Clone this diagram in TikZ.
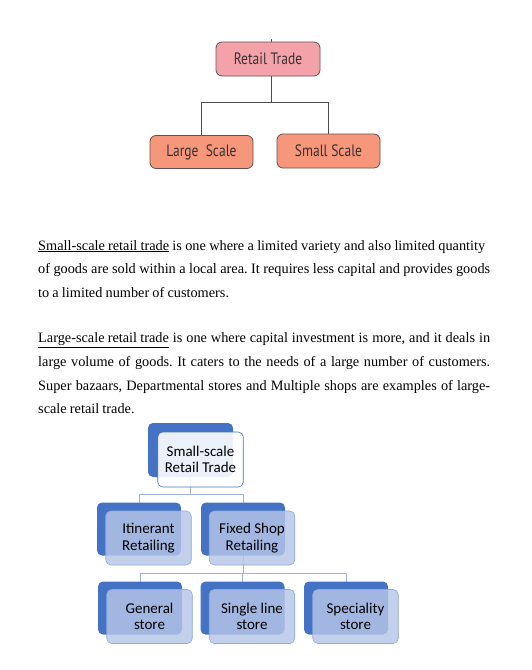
\documentclass[tikz,border=0pt]{standalone}
\usepackage{fontspec}
\setmainfont{Liberation Serif}
\newfontfamily\topfont[FakeStretch=0.82]{PT Sans}
\newfontfamily\calfont{Carlito}
\newcommand\parafont{\fontsize{14.3}{16}\selectfont\frenchspacing\spaceskip=0.22em plus 1em minus 0.05em\relax}
\usetikzlibrary{backgrounds}
\definecolor{pinkfill}{RGB}{244,162,170}
\definecolor{salmon}{RGB}{246,150,122}
\definecolor{boxedge}{RGB}{100,80,80}
\definecolor{toptext}{RGB}{55,50,50}
\definecolor{darkblue}{RGB}{68,114,196}
\definecolor{lightblue}{RGB}{182,198,232}
\definecolor{edgeblue}{RGB}{143,170,220}
\definecolor{linkblue}{RGB}{160,178,215}
\tikzset{
 topbox/.style={draw=boxedge, line width=0.8pt, rounded corners=6pt, minimum width=103pt, minimum height=33pt, inner sep=0, text=toptext, font=\topfont\fontsize{16.5}{16.5}\selectfont},
 back/.style={fill=darkblue, rounded corners=5pt, minimum width=84pt, minimum height=53pt, inner sep=0},
 front/.style={rounded corners=5pt, minimum width=85.5pt, minimum height=54pt, align=center, font=\calfont\fontsize{15}{16.5}\selectfont, inner sep=0, text opacity=1},
 lvlone/.style={front, fill=white, fill opacity=0.9, draw=darkblue, line width=0.6pt},
 lvltwo/.style={front, fill=lightblue, fill opacity=0.82, draw=edgeblue, line width=0.6pt},
 link/.style={draw=linkblue, line width=0.8pt},
 treelink/.style={draw=black!70, line width=0.7pt},
 para/.style={anchor=base west, inner sep=0, font=\parafont}
}
\begin{document}
\begin{tikzpicture}[x=1pt,y=-1pt]
\useasboundingbox (0,0) rectangle (531,670);
% top tree
\node[topbox, fill=pinkfill, minimum width=104pt, minimum height=34pt] (rt) at (268,59) {Retail Trade};
\node[topbox, fill=salmon] (ls) at (201.5,152) {Large\ \ Scale};
\node[topbox, fill=salmon, minimum height=34pt] (ss) at (328.5,151) {Small Scale};
\coordinate (rttop) at (271,39);
\coordinate (rtjoin) at (271,102);
\draw[treelink] (rttop) -- (rttop |- rt.north);
\draw[treelink] (rtjoin |- rt.south) -- (rtjoin);
\draw[treelink] (rtjoin) -| (ls.north);
\draw[treelink] (rtjoin) -| (ss.north);
% paragraphs
\node[para] (p1a) at (38,250) {\makebox[447pt][s]{\underline{Small-scale retail trade} is one where a limited variety and also limited quantity}};
\node[para] (p1b) at (38,273.5) {\makebox[452pt][s]{of goods are sold within a local area. It requires less capital and provides goods}};
\node[para] (p1c) at (38,297) {to a limited number of customers.};
\node[para] (p2a) at (38,342.5) {\makebox[452pt][s]{\underline{Large-scale retail trade} is one where capital investment is more, and it deals in}};
\node[para] (p2b) at (38,366) {\makebox[452pt][s]{large volume of goods. It caters to the needs of a large number of customers.}};
\node[para] (p2c) at (38,390) {\makebox[452pt][s]{Super bazaars, Departmental stores and Multiple shops are examples of large-}};
\node[para] (p2d) at (38,413.5) {scale retail trade.};
% bottom hierarchy
\node[back, minimum width=85pt, minimum height=54pt] (l1b) at (190.5,450) {};
\node[lvlone, minimum height=55pt] (l1f) at (200.5,459.5) {Small-scale\\Retail Trade};
\node[back] (itb) at (139,529) {};
\node[lvltwo] (itf) at (148.5,538) {Itinerant\\Retailing};
\node[back] (fsb) at (243,529) {};
\node[lvltwo] (fsf) at (252,538) {Fixed Shop\\Retailing};
\node[back] (gsb) at (140,608) {};
\node[lvltwo] (gsf) at (149.5,616.5) {General\\store};
\node[back] (slb) at (242.5,608) {};
\node[lvltwo] (slf) at (252,616.5) {Single line\\store};
\node[back] (spb) at (346,608) {};
\node[lvltwo] (spf) at (355.5,616.5) {Speciality\\store};
\coordinate (j1) at (190.5,494);
\coordinate (j2) at (243,573);
\begin{scope}[on background layer]
\draw[link] (l1b.center) -- (j1);
\draw[link] (j1) -| (itb.center);
\draw[link] (j1) -| (fsb.center);
\draw[link] (fsb.center) -- (j2);
\draw[link] (j2) -| (gsb.center);
\draw[link] (j2) -| (slb.center);
\draw[link] (j2) -| (spb.center);
\end{scope}
\end{tikzpicture}
\end{document}
